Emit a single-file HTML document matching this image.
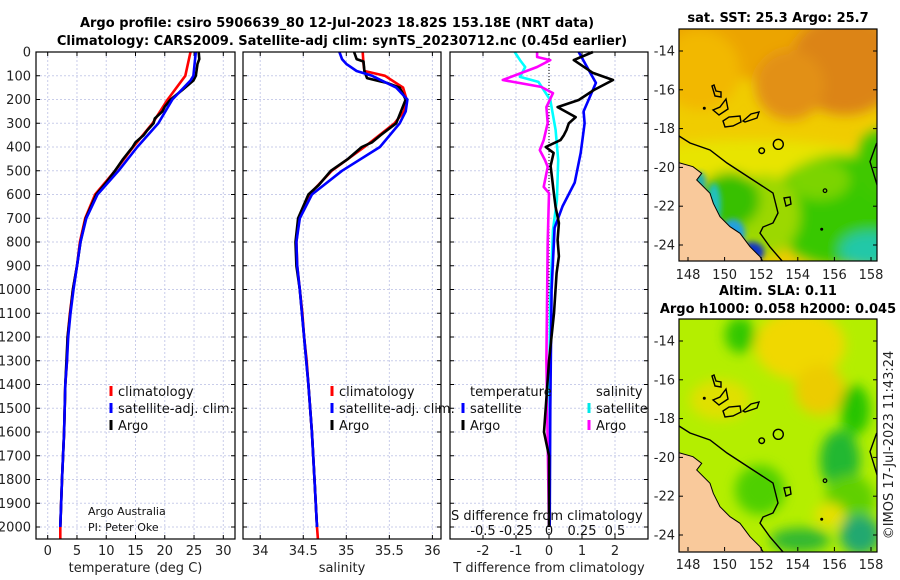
<!DOCTYPE html>
<html><head><meta charset="utf-8"><style>
html,body{margin:0;padding:0;background:#fff;}
svg{display:block;font-family:"DejaVu Sans","Liberation Sans",sans-serif;}
</style></head><body>
<svg id="fig" width="900" height="580" viewBox="0 0 900 580" xmlns="http://www.w3.org/2000/svg">
<defs>
<filter id="blur6" x="-30%" y="-30%" width="160%" height="160%"><feGaussianBlur stdDeviation="6"/></filter>
<filter id="blur3" x="-30%" y="-30%" width="160%" height="160%"><feGaussianBlur stdDeviation="3"/></filter>
<clipPath id="clipTop"><rect x="679" y="29" width="198" height="232"/></clipPath>
<clipPath id="clipBot"><rect x="679" y="319" width="198" height="233"/></clipPath>
</defs>
<text x="337" y="27" font-size="13" font-weight="bold" text-anchor="middle">Argo profile: csiro 5906639_80 12-Jul-2023 18.82S 153.18E (NRT data)</text>
<text x="342" y="45" font-size="13" font-weight="bold" text-anchor="middle">Climatology: CARS2009. Satellite-adj clim: synTS_20230712.nc (0.45d earlier)</text>
<g id="panels"></g>
<g id="maps"></g>
</svg>
<script>
// ---- data (depth in m) ----
const tClimDepth = [0,100,200,300,400,500,600,700,800,900,1000,1100,1200,1300,1400,1600,1800,2000,2050];
const tClimVals  = [24.4,23.5,20.5,17.9,14.6,11.5,8.1,6.4,5.5,5.0,4.3,3.8,3.4,3.3,3.0,2.8,2.45,2.15,2.15];
const tSatDepth  = [0,100,120,200,300,400,500,600,700,800,900,1000,1100,1200,1300,1400,1600,1800,2000];
const tSatVals   = [25.3,24.9,24.4,21.3,18.9,15.3,12.1,8.5,6.6,5.6,5.0,4.4,3.9,3.5,3.3,3.0,2.8,2.45,2.15];
const tArgoDepth = [0,30,50,100,120,160,200,230,250,280,300,330,350,380,400,450,500,550,600,700,800,900,1000,1200,1400,1600,1800,2000];
const tArgoVals  = [25.8,25.9,25.6,25.3,24.9,23.0,21.0,20.0,19.6,18.3,18.1,17.0,16.4,15.0,14.5,12.9,11.5,10.0,8.3,6.5,5.6,5.0,4.3,3.4,3.0,2.8,2.45,2.15];

const sClimDepth = [0,50,80,100,150,200,250,300,400,500,600,700,800,900,1000,1100,1200,1300,1400,1600,1800,2000,2050];
const sClimVals  = [35.19,35.2,35.21,35.45,35.66,35.70,35.67,35.56,35.21,34.83,34.57,34.45,34.42,34.43,34.46,34.49,34.51,34.54,34.56,34.6,34.63,34.66,34.67];
const sSatDepth  = [0,30,50,80,100,150,200,250,300,400,500,600,700,800,900,1000,1200,1400,1600,1800,2000];
const sSatVals   = [34.92,34.95,35.0,35.12,35.3,35.58,35.71,35.69,35.62,35.39,34.95,34.6,34.46,34.42,34.43,34.46,34.51,34.56,34.6,34.63,34.66];
const sArgoDepth = [0,30,40,80,110,130,150,200,300,350,380,400,450,500,560,600,700,800,900,1000,1200,1400,1600,1800,2000];
const sArgoVals  = [35.09,35.12,35.2,35.21,35.24,35.47,35.62,35.69,35.58,35.4,35.3,35.18,35.02,34.82,34.68,34.56,34.44,34.41,34.42,34.46,34.51,34.56,34.6,34.63,34.66];

const dtSatDepth  = [0,130,250,300,425,550,650,740,1000,1500,2000];
const dtSatVals   = [0.9,1.42,1.05,1.08,0.96,0.78,0.41,0.17,0.08,0.04,0.02];
const dtArgoDepth = [0,34,88,118,160,202,232,274,300,328,350,371,400,425,480,539,600,653,720,792,860,931,1100,1300,1500,1600,1700,2000];
const dtArgoVals  = [1.33,0.75,1.33,1.94,1.36,0.9,0.26,0.81,0.6,0.53,0.45,0.35,-0.1,0.14,0.05,0.1,0.15,0.2,0.3,0.26,0.3,0.23,0.15,0.0,-0.1,-0.15,0.0,0.0];
const dsSatDepth  = [0,34,63,105,126,202,328,455,623,749,1044,1500,2000];
const dsSatVals   = [-0.26,-0.22,-0.18,-0.22,-0.08,0.01,0.05,0.07,0.06,0.03,0.01,0.0,0.0];
const dsArgoDepth = [0,21,34,63,118,147,173,232,299,371,413,455,484,568,594,800,1300,2000];
const dsArgoVals  = [-0.09,-0.09,0.01,-0.09,-0.35,-0.06,0.03,-0.02,-0.01,-0.04,-0.07,-0.03,-0.01,-0.04,0.0,-0.01,-0.02,0.0];

const depthTicks = [0,100,200,300,400,500,600,700,800,900,1000,1100,1200,1300,1400,1500,1600,1700,1800,1900,2000];
const tTicks = [0,5,10,15,20,25,30];
const sTicks = [34,34.5,35,35.5,36];
const sTickLabels = ["34","34.5","35","35.5","36"];
const dtTicks = [-2,-1,0,1,2];
const dsTicks = [-0.5,-0.25,0,0.25,0.5];
const latTicks = [-14,-16,-18,-20,-22,-24];
const lonTicks = [148,150,152,154,156,158];

const NS="http://www.w3.org/2000/svg";
const TOP=52, BOT=539;
const yD = d => TOP + d*(527-TOP)/2000;
function mk(tag, attrs, parent, txt){
  const e=document.createElementNS(NS,tag);
  for(const k in attrs) e.setAttribute(k,attrs[k]);
  if(txt!==undefined) e.textContent=txt;
  parent.appendChild(e); return e;
}
const panels=document.getElementById('panels');
const P=[
 {name:'temperature', x0:36, x1:235, dmin:-2, dmax:32, ticks:tTicks, labels:tTicks.map(String), title:'temperature (deg C)'},
 {name:'salinity', x0:243, x1:441, dmin:33.8, dmax:36.1, ticks:sTicks, labels:sTickLabels, title:'salinity'},
 {name:'difference', x0:450, x1:648, dmin:-3, dmax:3, ticks:dtTicks, labels:dtTicks.map(String), title:'T difference from climatology'}
];
P.forEach((p,i)=>{
  p.sx = v => p.x0 + (v-p.dmin)*(p.x1-p.x0)/(p.dmax-p.dmin);
  const g=mk('g',{},panels);
  
  
  depthTicks.forEach(d=>{ const l=mk('line',{x1:p.x0,x2:p.x1,y1:yD(d),y2:yD(d),stroke:'#c9cdea','stroke-width':1,'stroke-dasharray':'2,2'},g);
      });
  p.ticks.forEach((t,k)=>{
    const l=mk('line',{x1:p.sx(t),x2:p.sx(t),y1:TOP,y2:BOT,stroke:'#c9cdea','stroke-width':1,'stroke-dasharray':'2,2'},g);
     
    mk('line',{x1:p.sx(t),x2:p.sx(t),y1:BOT,y2:BOT-4,stroke:'#000'},g);
    mk('line',{x1:p.sx(t),x2:p.sx(t),y1:TOP,y2:TOP+4,stroke:'#000'},g);
    const tx=mk('text',{x:p.sx(t),y:555,'font-size':13,'text-anchor':'middle',fill:'#222'},g,p.labels[k]);
     
  });
  depthTicks.forEach(d=>{
    mk('line',{x1:p.x0,x2:p.x0+4,y1:yD(d),y2:yD(d),stroke:'#000'},g);
    mk('line',{x1:p.x1,x2:p.x1-4,y1:yD(d),y2:yD(d),stroke:'#000'},g);
  });
  const at=mk('text',{x:(p.x0+p.x1)/2,y:572,'font-size':13,'text-anchor':'middle',fill:'#222'},g,p.title);
   
  p.g=g;
});
depthTicks.forEach(d=>{
  const t=mk('text',{x:31,y:yD(d)+4.5,'font-size':13,'text-anchor':'end',fill:'#222'},panels,String(d));
   
});
const p3=P[2];
const zl=mk('line',{x1:p3.sx(0),x2:p3.sx(0),y1:TOP,y2:BOT,stroke:'#000','stroke-width':1,'stroke-dasharray':'1,2'},p3.g);
 

function series(p, depths, vals, color, name, sx){
  const f = sx || p.sx;
  const pts=depths.map((d,k)=>f(vals[k]).toFixed(1)+','+yD(d).toFixed(1)).join(' ');
  const pl=mk('polyline',{points:pts,fill:'none',stroke:color,'stroke-width':2.6,'stroke-linejoin':'round'},p.g);
  
  
}
series(P[0],tClimDepth,tClimVals,'#ff0000','temp-climatology-line');
series(P[0],tArgoDepth,tArgoVals,'#000000','temp-argo-line');
series(P[0],tSatDepth,tSatVals,'#0000ff','temp-satellite-line');
series(P[1],sClimDepth,sClimVals,'#ff0000','sal-climatology-line');
series(P[1],sArgoDepth,sArgoVals,'#000000','sal-argo-line');
series(P[1],sSatDepth,sSatVals,'#0000ff','sal-satellite-line');
const sxS = v => p3.sx(v*4);
series(p3,dsSatDepth,dsSatVals,'#00ffff','dsal-satellite-line',sxS);
series(p3,dsArgoDepth,dsArgoVals,'#ff00ff','dsal-argo-line',sxS);
series(p3,dtSatDepth,dtSatVals,'#0000ff','dtemp-satellite-line');
series(p3,dtArgoDepth,dtArgoVals,'#000000','dtemp-argo-line');
P.forEach(p=>{ const r=mk('rect',{x:p.x0,y:TOP,width:p.x1-p.x0,height:BOT-TOP,fill:'none',stroke:'#000','stroke-width':1.2},p.g);
    });

function legend(x,y,color,label,g){
  const le=mk('g',{},g);
  
  
  mk('line',{x1:x,x2:x,y1:y-10,y2:y,stroke:color,'stroke-width':3},le);
  mk('text',{x:x+7,y:y,'font-size':13,fill:'#111'},le,label);
}
[[P[0],111],[P[1],332]].forEach(([p,x])=>{
  legend(x,396,'#ff0000','climatology',p.g);
  legend(x,413,'#0000ff','satellite-adj. clim.',p.g);
  legend(x,430,'#000000','Argo',p.g);
});
const lt=mk('text',{x:470,y:396,'font-size':13,fill:'#111'},p3.g,'temperature');
 
const ls=mk('text',{x:596,y:396,'font-size':13,fill:'#111'},p3.g,'salinity');
 
legend(463,413,'#0000ff','satellite',p3.g);
legend(463,430,'#000000','Argo',p3.g);
legend(589,413,'#00e8e8','satellite',p3.g);
legend(589,430,'#ff00ff','Argo',p3.g);
const st=mk('text',{x:451,y:520,'font-size':13,fill:'#111'},p3.g,'S difference from climatology');
 
dsTicks.forEach(v=>{ const t=mk('text',{x:sxS(v),y:535,'font-size':13,'text-anchor':'middle',fill:'#111'},p3.g,String(v));
    });
const c1=mk('text',{x:88,y:515,'font-size':11,fill:'#111'},P[0].g,'Argo Australia');
 
const c2=mk('text',{x:88,y:531,'font-size':11,fill:'#111'},P[0].g,'PI: Peter Oke');
 

// ---- maps ----
const maps=document.getElementById('maps');
const lonX = lon => 688 + (lon-148)*18.3;
function mapBase(off, clip, kind){
  const g=mk('g',{'clip-path':'url(#'+clip+')'},maps);
  
  
  const f=mk('g',{transform:'translate(0,'+off+')'},g);
  return [g,f];
}
function blobs(f, list, filt){
  const b=mk('g',{filter:'url(#'+filt+')'},f);
  list.forEach(e=>mk('ellipse',{cx:e[0],cy:e[1],rx:e[2],ry:e[3],fill:e[4]},b));
}
const coast="M679,162.7 L693,166.7 L701.7,173.3 L696.7,180 L710,193.3 L713.3,203.3 L720,216.7 L730,226.7 L740,233.3 L750,246.7 L760,256.7 L763.3,262";
const shelf="M679,136 L690,143 L710,150 L727,163 L753,180 L773,193 L778,213 L773,223 L763,227 L760,233 L770,247 L783,262";
function overlays(f){
  mk('path',{d:coast+" L679,262 Z",fill:'#f9c99b',stroke:'none'},f);
  mk('path',{d:coast,fill:'none',stroke:'#000','stroke-width':1},f);
  mk('path',{d:shelf,fill:'none',stroke:'#000','stroke-width':1.4},f);
  const isl=["M712,86 L715,96 L721,97 L721,92 L716,91 L714,85 Z","M713,110 L720,107 L726,99 L728,109 L719,115 Z",
   "M723,121 L729,117 L740,116 L741,122 L733,126 L725,127 Z","M743,121 L751,114 L759,112 L757,118 L745,122 Z",
   "M784,198 L790,197 L791,204 L786,206 Z","M876.7,143 L870,161.7 L878,188"];
  isl.forEach(d=>mk('path',{d:d,fill:'none',stroke:'#000','stroke-width':1.4},f));
  mk('circle',{cx:778.3,cy:144.3,r:5,fill:'none',stroke:'#000','stroke-width':1.4},f);
  mk('circle',{cx:761.7,cy:150.7,r:2.8,fill:'none',stroke:'#000','stroke-width':1.4},f);
  mk('circle',{cx:825,cy:190.7,r:1.8,fill:'none',stroke:'#000','stroke-width':1.2},f);
  mk('circle',{cx:704.3,cy:108.3,r:1.5,fill:'#000'},f);
  mk('circle',{cx:821.7,cy:229.3,r:1.5,fill:'#000'},f);
}
function mapAxes(off){
  const g=mk('g',{},maps);
  
  
  mk('rect',{x:679,y:29+off,width:198,height:232+(off?1:0),fill:'none',stroke:'#000','stroke-width':1.2},g);
  latTicks.forEach(l=>{ const y=51+off+(-14-l)*19.4;
    mk('line',{x1:679,x2:683,y1:y,y2:y,stroke:'#000'},g); mk('line',{x1:877,x2:873,y1:y,y2:y,stroke:'#000'},g);
    const t=mk('text',{x:675,y:y+4.5,'font-size':13,'text-anchor':'end',fill:'#222'},g,String(l));
      });
  lonTicks.forEach(l=>{ const x=lonX(l);
    mk('line',{x1:x,x2:x,y1:261+off,y2:257+off,stroke:'#000'},g);
    const t=mk('text',{x:x,y:279+off,'font-size':13,'text-anchor':'middle',fill:'#222'},g,String(l));
      });
}
// SST map
let [gt,ft]=mapBase(0,'clipTop','sst');
mk('rect',{x:670,y:20,width:220,height:250,fill:'#f0cc00'},ft);
blobs(ft,[[780,40,130,40,'#eca400'],[845,65,55,50,'#dc8418'],[790,85,35,35,'#e29012'],[700,70,40,40,'#f2b800'],
  [750,160,120,20,'#e8e400'],[840,210,70,55,'#38c800'],[765,215,35,40,'#9cd800'],[870,250,30,18,'#20c8a8'],
  [730,200,30,28,'#38c000'],[880,165,25,35,'#40c800'],[820,180,30,20,'#7cd400']],'blur6');
blobs(ft,[[714,205,7,22,'#20c0c0'],[733,233,12,14,'#20a0e0'],[752,252,12,10,'#1030c8'],[700,182,6,10,'#20b0b0']],'blur3');
overlays(ft);
mapAxes(0);
// SLA map
let [gb,fb]=mapBase(290,'clipBot','sla');
mk('rect',{x:670,y:20,width:220,height:250,fill:'#b4ee00'},fb);
blobs(fb,[[800,55,45,35,'#f0d800'],[820,100,25,25,'#eccc00'],[720,110,30,20,'#e0e000'],[740,45,15,18,'#30c800'],
  [855,120,15,25,'#28c400'],[840,170,20,30,'#20b830'],[850,210,25,25,'#60d000'],[860,245,20,20,'#20a870'],
  [800,250,30,12,'#30b830'],[760,200,25,25,'#50d000'],[830,225,15,12,'#e8e000']],'blur6');
overlays(fb);
mapAxes(290);
const t1=mk('text',{x:778,y:22,'font-size':13,'font-weight':'bold','text-anchor':'middle'},maps,'sat. SST: 25.3 Argo: 25.7');
 
const t2=mk('text',{x:778,y:295,'font-size':13,'font-weight':'bold','text-anchor':'middle'},maps,'Altim. SLA: 0.11');
 
const t3=mk('text',{x:778,y:313,'font-size':13,'font-weight':'bold','text-anchor':'middle'},maps,'Argo h1000: 0.058 h2000: 0.045');
 
const t4=mk('text',{x:0,y:0,'font-size':13,'text-anchor':'middle',fill:'#222',transform:'translate(893,445) rotate(-90)'},maps,'©IMOS 17-Jul-2023 11:43:24');
 
</script>
</body></html>
